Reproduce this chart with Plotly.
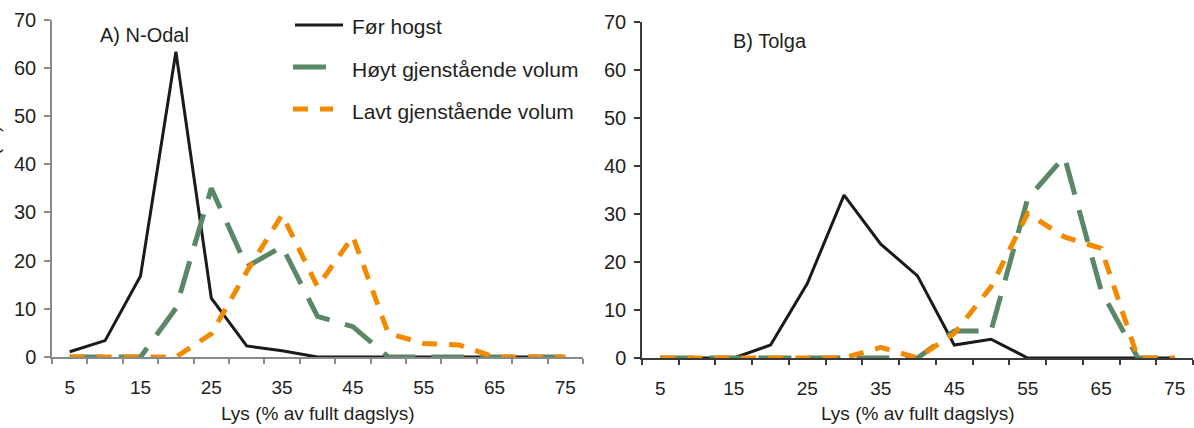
import plotly.graph_objects as go

# Light classes (% of full daylight) and share of plots in each class
light = [5, 10, 15, 20, 25, 30, 35, 40, 45, 50, 55, 60, 65, 70, 75]
x_ticks = [5, 15, 25, 35, 45, 55, 65, 75]
y_ticks = [0, 10, 20, 30, 40, 50, 60, 70]

nodal_for = [1.1, 3.4, 16.8, 63.3, 12.2, 2.3, 1.3, 0, 0, 0, 0, 0, 0, 0, 0]
nodal_hoyt = [0, 0, 0, 10.1, 35.0, 18.7, 22.9, 8.4, 6.3, 0, 0, 0, 0, 0, 0]
nodal_lavt = [0, 0, 0, 0, 4.8, 17.7, 29.5, 14.6, 25.0, 4.9, 2.8, 2.5, 0, 0, 0]

tolga_for = [0, 0, 0, 2.7, 15.5, 33.9, 23.7, 17.1, 2.7, 3.9, 0, 0, 0, 0, 0]
tolga_hoyt = [0, 0, 0, 0, 0, 0, 0, 0, 5.6, 5.6, 33.2, 41.9, 14.0, 0, 0]
tolga_lavt = [0, 0, 0, 0, 0, 0, 2.2, 0, 5.1, 14.8, 30.1, 25.2, 22.8, 0, 0]

series_names = ["Før hogst", "Høyt gjenstående volum", "Lavt gjenstående volum"]
panel_titles = ["A) N-Odal", "B) Tolga"]
x_title = "Lys (% av fullt dagslys)"
y_title = "Andel (%)"

W, H = 1194, 428
FONT = "Liberation Sans, Arial, sans-serif"
TXT = "#231f20"

styles = [
    dict(color="#1a1a1a", width=3, dash="solid"),
    dict(color="#5a8766", width=5, dash="33px,16px"),
    dict(color="#f28a00", width=5, dash="15px,12px"),
]


def px(x):
    return x / W


def py(y):
    return 1 - y / H


fig = go.Figure()

for axis_id, data in (("", (nodal_for, nodal_hoyt, nodal_lavt)),
                      ("2", (tolga_for, tolga_hoyt, tolga_lavt))):
    for name, vals, st in zip(series_names, data, styles):
        fig.add_trace(go.Scatter(
            x=light, y=vals, mode="lines", name=name, showlegend=False,
            line=dict(color=st["color"], width=st["width"], dash=st["dash"]),
            xaxis="x" + axis_id, yaxis="y" + axis_id, cliponaxis=False,
        ))


def xaxis(domain, color):
    return dict(
        domain=domain, range=[2.5, 77.5], tickmode="array", tickvals=x_ticks,
        ticks="", showline=True, linecolor=color, linewidth=1.5,
        showgrid=False, zeroline=False, ticklabelstandoff=12, automargin=False,
        tickfont=dict(family=FONT, size=19, color=TXT),
        minor=dict(tickmode="array", tickvals=[v - 2.5 for v in light] + [77.5],
                   ticks="outside", ticklen=5, tickcolor=color, tickwidth=1.5,
                   showgrid=False),
    )


def yaxis(domain, color, anchor):
    return dict(
        domain=domain, range=[0, 70], tickmode="array", tickvals=y_ticks,
        ticks="outside", ticklen=6, tickcolor=color, tickwidth=1.5,
        showline=True, linecolor=color, linewidth=1.5, anchor=anchor,
        showgrid=False, zeroline=False, ticklabelstandoff=4, automargin=False,
        tickfont=dict(family=FONT, size=20, color=TXT),
    )


fig.update_layout(
    width=W, height=H, margin=dict(l=0, r=0, t=0, b=0, pad=0, autoexpand=False),
    paper_bgcolor="white", plot_bgcolor="white", showlegend=False,
    xaxis=xaxis([px(52), px(583)], "#8a8a8a"),
    yaxis=yaxis([py(357), py(19.5)], "#8a8a8a", "x"),
    xaxis2=dict(xaxis([px(642), px(1193)], "#3a3a3a"), anchor="y2"),
    yaxis2=yaxis([py(358), py(21.7)], "#3a3a3a", "x2"),
)

annotations = [
    dict(text=panel_titles[0], x=px(98), y=py(35), xanchor="left", yanchor="middle",
         font=dict(size=20, color=TXT)),
    dict(text=panel_titles[1], x=px(731), y=py(41), xanchor="left", yanchor="middle",
         font=dict(size=20, color=TXT)),
    dict(text=x_title, x=px(318), y=py(413), xanchor="center", yanchor="middle",
         font=dict(size=19, color=TXT)),
    dict(text=x_title, x=px(918), y=py(413), xanchor="center", yanchor="middle",
         font=dict(size=19, color=TXT)),
    # y-axis title sits at the very left edge of the page, mostly outside it
    dict(text=y_title, x=px(-8), y=py(168), xanchor="center", yanchor="middle",
         textangle=-90, font=dict(size=19, color=TXT)),
]

# Legend drawn inside panel A: sample line plus label per series
legend_rows = [(295, 343, 25), (293, 328, 67), (293, 333, 109)]
shapes = []
for name, st, (x0, x1, yy) in zip(series_names, styles, legend_rows):
    shapes.append(dict(type="line", xref="paper", yref="paper",
                       x0=px(x0), x1=px(x1), y0=py(yy), y1=py(yy),
                       line=dict(color=st["color"], width=st["width"], dash=st["dash"])))
    annotations.append(dict(text=name, x=px(350), y=py(yy + 2), xanchor="left",
                            yanchor="middle", font=dict(size=21, color=TXT)))

for a in annotations:
    a.update(xref="paper", yref="paper", showarrow=False)
    a["font"]["family"] = FONT

fig.update_layout(annotations=annotations, shapes=shapes)

fig.write_html("out.html")
